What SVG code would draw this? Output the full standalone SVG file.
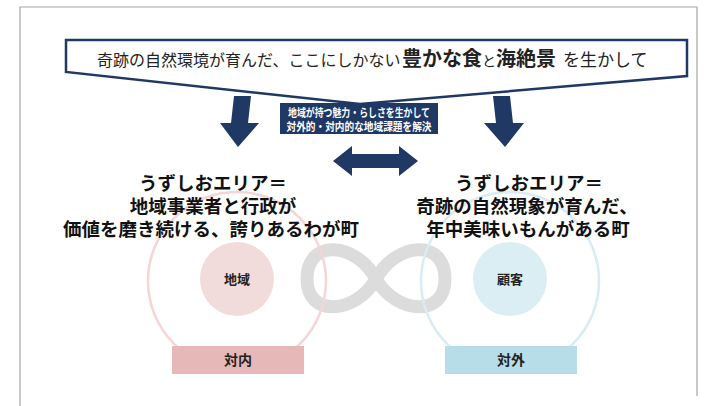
<svg xmlns="http://www.w3.org/2000/svg" width="704" height="406" viewBox="0 0 704 406">
<style>
.jp{font-family:"Noto Sans CJK JP","Noto Sans CJK SC",sans-serif}
.h{font-size:18.5px;font-weight:700;fill:#111;text-anchor:middle}
.lbl{font-size:13px;font-weight:700;fill:#222;text-anchor:middle}
.navy{fill:#1f3864}
</style>
<rect width="704" height="406" fill="#fff"/>
<path d="M20 408 V7 H697 V396" fill="none" stroke="#a6a6a6" stroke-width="1.2"/>

<g id="infinity">
<path d="M376 279 C396 242 445 238 445 279 C445 318 396 314 376 279 C356 242 307 238 307 279 C307 318 356 314 376 279 Z" fill="none" stroke="#dcdcdc" stroke-width="13"/>
</g>

<g id="left-node">
<circle cx="237" cy="281" r="89" fill="none" stroke="#f5d5d5" stroke-width="2.5"/>
<circle cx="237" cy="279" r="37" fill="#f2dcdb"/>
<text class="jp lbl" x="237" y="284">地域</text>
<rect x="172" y="346" width="132" height="28" fill="#e6b9b8"/>
<text class="jp lbl" x="238" y="365" style="font-size:14px">対内</text>
</g>

<g id="right-node">
<circle cx="510" cy="281" r="89" fill="none" stroke="#d9ecf3" stroke-width="2.5"/>
<circle cx="510" cy="279" r="37" fill="#dbeef4"/>
<text class="jp lbl" x="510" y="284">顧客</text>
<rect x="445" y="346" width="132" height="28" fill="#b7dde8"/>
<text class="jp lbl" x="511" y="365" style="font-size:14px">対外</text>
</g>

<g id="banner">
<polygon points="66,40 687,40 687,76 360,104 66,72" fill="#fff" stroke="#1f3864" stroke-width="2.5" stroke-linejoin="miter"/>
<text class="jp" y="66" fill="#222" style="font-size:16px"><tspan x="97">奇跡の自然環境が育んだ、ここにしかない</tspan><tspan x="402" style="font-size:20px;font-weight:700">豊かな食</tspan><tspan x="482" style="font-size:14px">と</tspan><tspan x="496" style="font-size:20px;font-weight:700">海絶景</tspan><tspan x="563" style="font-size:17px">を生かして</tspan></text>
</g>

<g id="connectors">
<polygon class="navy" points="234,96 251,96 248,123 259,123 238,147 220,123 231,123"/>
<polygon class="navy" points="493,96 510,96 513,123 524,123 505,147 484,123 496,123"/>
<polygon class="navy" points="333,161 352,146 352,154 399,154 399,146 418,161 399,176 399,168 352,168 352,176"/>
</g>

<g id="center-box">
<rect x="280" y="103" width="158" height="31" fill="#1f3864"/>
<text class="jp" x="359" y="117" fill="#fff" text-anchor="middle" textLength="142" lengthAdjust="spacingAndGlyphs" style="font-size:11.5px;font-weight:700">地域が持つ魅力・らしさを生かして</text>
<text class="jp" x="359" y="131" fill="#fff" text-anchor="middle" textLength="145" lengthAdjust="spacingAndGlyphs" style="font-size:11.5px;font-weight:700">対外的・対内的な地域課題を解決</text>
</g>

<g id="left-heading">
<text class="jp h" x="213" y="190">うずしおエリア＝</text>
<text class="jp h" x="213" y="213">地域事業者と行政が</text>
<text class="jp h" x="211" y="236">価値を磨き続ける、誇りあるわが町</text>
</g>

<g id="right-heading">
<text class="jp h" x="529" y="190">うずしおエリア＝</text>
<text class="jp h" x="527" y="213">奇跡の自然現象が育んだ、</text>
<text class="jp h" x="528" y="236">年中美味いもんがある町</text>
</g>
</svg>
